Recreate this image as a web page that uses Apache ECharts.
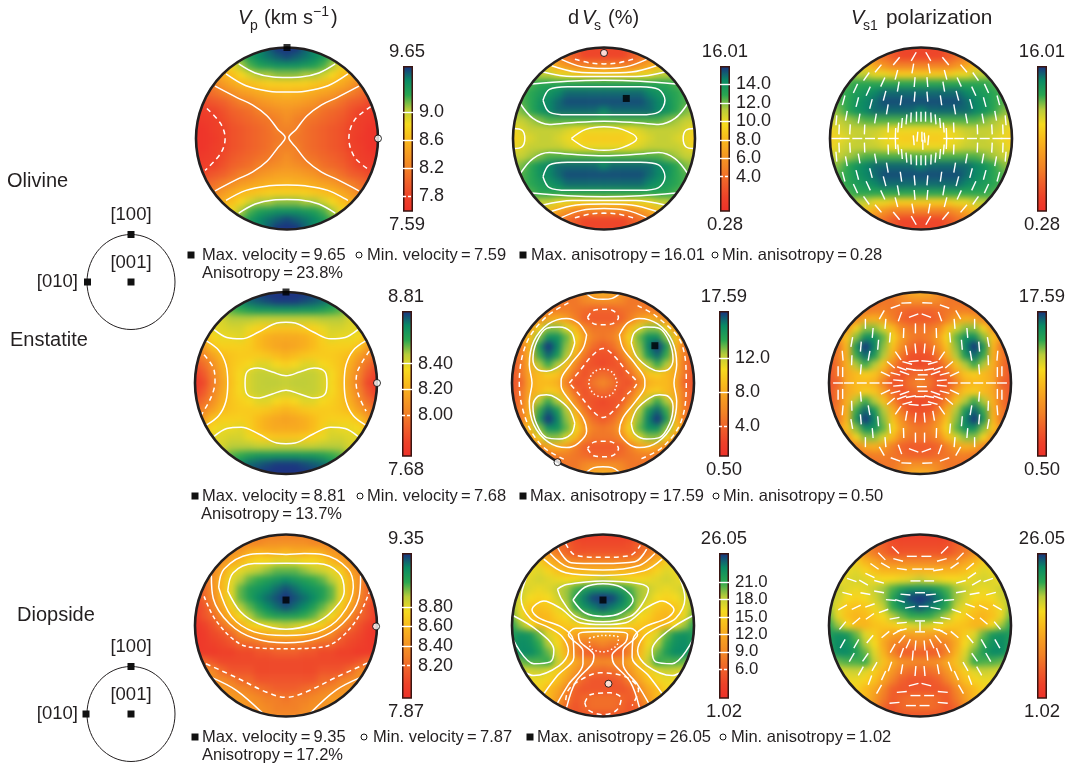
<!DOCTYPE html>
<html><head><meta charset="utf-8">
<script src="https://cdn.jsdelivr.net/npm/echarts@6/dist/echarts.min.js"></script>
<style>html,body{margin:0;background:#fff}#wrap{position:relative;width:1070px;height:765px;overflow:hidden}
#cells,#c{position:absolute;left:0;top:0;width:1070px;height:765px}#cells{filter:blur(3px)}</style></head>
<body><div id="wrap"><div id="cells"></div><div id="c"></div></div>
<script>
const FONT='"Liberation Sans"', INK='#231f20';
const colorRamp=['#ee3029','#ee4229','#f0602a','#f28226','#f69c22','#f9ba1c','#f6da1e','#b9cc3a','#2aa650','#0a8a64','#1a2f80'];

// Cell values, rows from top to bottom; each row is centred on the stereonet
const olivineVp=[
[9.3,9.4,9.55,9.65,9.65,9.65,9.55,9.4,9.3],
[8.9,9.2,9.35,9.45,9.5,9.55,9.6,9.55,9.5,9.45,9.35,9.2,8.9],
[8.7,8.85,9.05,9.2,9.3,9.35,9.4,9.4,9.4,9.35,9.3,9.2,9.05,8.85,8.7],
[8.4,8.55,8.65,8.8,8.95,9.05,9.05,9.1,9.1,9.1,9.05,9.05,8.95,8.8,8.65,8.55,8.4],
[8.1,8.25,8.4,8.5,8.6,8.65,8.7,8.75,8.75,8.75,8.75,8.75,8.7,8.65,8.6,8.5,8.4,8.25,8.1],
[8,8.1,8.2,8.3,8.4,8.45,8.5,8.55,8.55,8.6,8.55,8.55,8.5,8.45,8.4,8.3,8.2,8.1,8],
[7.8,7.85,7.95,8,8.1,8.2,8.25,8.35,8.4,8.45,8.45,8.45,8.4,8.35,8.25,8.2,8.1,8,7.95,7.85,7.8],
[7.7,7.75,7.8,7.9,8,8.05,8.1,8.2,8.25,8.3,8.35,8.3,8.25,8.2,8.1,8.05,8,7.9,7.8,7.75,7.7],
[7.65,7.7,7.75,7.85,7.95,8,8.05,8.1,8.15,8.2,8.3,8.2,8.15,8.1,8.05,8,7.95,7.85,7.75,7.7,7.65],
[7.6,7.65,7.75,7.8,7.9,7.95,8,8.05,8.1,8.2,8.2,8.2,8.1,8.05,8,7.95,7.9,7.8,7.75,7.65,7.6],
[7.6,7.65,7.7,7.8,7.9,7.95,8,8.05,8.1,8.15,8.2,8.15,8.1,8.05,8,7.95,7.9,7.8,7.7,7.65,7.6],
[7.6,7.65,7.75,7.8,7.9,7.95,8,8.05,8.1,8.2,8.2,8.2,8.1,8.05,8,7.95,7.9,7.8,7.75,7.65,7.6],
[7.65,7.7,7.75,7.85,7.95,8,8.05,8.1,8.15,8.2,8.3,8.2,8.15,8.1,8.05,8,7.95,7.85,7.75,7.7,7.65],
[7.7,7.75,7.8,7.9,8,8.05,8.1,8.2,8.25,8.3,8.35,8.3,8.25,8.2,8.1,8.05,8,7.9,7.8,7.75,7.7],
[7.8,7.85,7.95,8,8.1,8.2,8.25,8.35,8.4,8.45,8.45,8.45,8.4,8.35,8.25,8.2,8.1,8,7.95,7.85,7.8],
[8,8.1,8.2,8.3,8.4,8.45,8.5,8.55,8.55,8.6,8.55,8.55,8.5,8.45,8.4,8.3,8.2,8.1,8],
[8.1,8.25,8.4,8.5,8.6,8.65,8.7,8.75,8.75,8.75,8.75,8.75,8.7,8.65,8.6,8.5,8.4,8.25,8.1],
[8.4,8.55,8.65,8.8,8.95,9.05,9.05,9.1,9.1,9.1,9.05,9.05,8.95,8.8,8.65,8.55,8.4],
[8.7,8.85,9.05,9.2,9.3,9.35,9.4,9.4,9.4,9.35,9.3,9.2,9.05,8.85,8.7],
[8.9,9.2,9.35,9.45,9.5,9.55,9.6,9.55,9.5,9.45,9.35,9.2,8.9],
[9.3,9.4,9.55,9.65,9.65,9.65,9.55,9.4,9.3]];
const olivineDvs=[
[4,3,2,2,2,2,2,3,4],
[7,5,4,3,2,2,2,2,2,3,4,5,7],
[10,8.5,7,6,5,5,5,5,5,5,5,6,7,8.5,10],
[12,11,11,10,10,9,9,9,9,9,9,9,10,10,11,11,12],
[12,12.5,13,13,13,13,13,13,13,13,13,13,13,13,13,13,13,12.5,12],
[12.5,13,13.5,14,14.5,15,15,15,15,15,15,15,15,15,14.5,14,13.5,13,12.5],
[12,12.5,13,14,14.5,15,15.5,15.5,15.5,15.5,15.5,15.5,15.5,15.5,15.5,15,14.5,14,13,12.5,12],
[11.5,12,13,14,14.5,15,15,15,15,15,14.5,15,15,15,15,15,14.5,14,13,12,11.5],
[11,11,11.5,12,12.5,12.5,12.5,12.5,12.5,12.5,12.5,12.5,12.5,12.5,12.5,12.5,12.5,12,11.5,11,11],
[9.5,10.5,11,11,11,11,10.5,10,10,10,10,10,10,10,10.5,11,11,11,11,10.5,9.5],
[9,10,10.5,11,11,10.5,10,9.5,9,9,9,9,9,9.5,10,10.5,11,11,10.5,10,9],
[9.5,10.5,11,11,11,11,10.5,10,10,10,10,10,10,10,10.5,11,11,11,11,10.5,9.5],
[11,11,11.5,12,12.5,12.5,12.5,12.5,12.5,12.5,12.5,12.5,12.5,12.5,12.5,12.5,12.5,12,11.5,11,11],
[11.5,12,13,14,14.5,15,15,15,15,15,14.5,15,15,15,15,15,14.5,14,13,12,11.5],
[12,12.5,13,14,14.5,15,15.5,15.5,15.5,15.5,15.5,15.5,15.5,15.5,15.5,15,14.5,14,13,12.5,12],
[12.5,13,13.5,14,14.5,15,15,15,15,15,15,15,15,15,14.5,14,13.5,13,12.5],
[12,12.5,13,13,13,13,13,13,13,13,13,13,13,13,13,13,13,12.5,12],
[12,11,11,10,10,9,9,9,9,9,9,9,10,10,11,11,12],
[10,8.5,7,6,5,5,5,5,5,5,5,6,7,8.5,10],
[7,5,4,3,2,2,2,2,2,3,4,5,7],
[4,3,2,2,2,2,2,3,4]];
const enstatiteVp=[
[8.78,8.8,8.81,8.81,8.81,8.81,8.81,8.8,8.78],
[8.66,8.7,8.74,8.76,8.78,8.8,8.8,8.8,8.78,8.76,8.74,8.7,8.66],
[8.45,8.55,8.58,8.62,8.65,8.65,8.66,8.66,8.66,8.65,8.65,8.62,8.58,8.55,8.45],
[8.38,8.42,8.47,8.47,8.47,8.45,8.45,8.45,8.45,8.45,8.45,8.45,8.47,8.47,8.47,8.42,8.38],
[8.3,8.4,8.4,8.42,8.42,8.38,8.33,8.3,8.28,8.28,8.28,8.3,8.33,8.38,8.42,8.42,8.4,8.4,8.3],
[8.25,8.35,8.38,8.38,8.4,8.32,8.25,8.2,8.18,8.18,8.18,8.2,8.25,8.32,8.4,8.38,8.38,8.35,8.25],
[8,8.15,8.28,8.32,8.32,8.32,8.3,8.25,8.2,8.17,8.15,8.17,8.2,8.25,8.3,8.32,8.32,8.32,8.28,8.15,8],
[7.95,8.05,8.15,8.25,8.28,8.3,8.3,8.3,8.28,8.25,8.22,8.25,8.28,8.3,8.3,8.3,8.28,8.25,8.15,8.05,7.95],
[7.85,7.95,8.08,8.2,8.28,8.32,8.35,8.4,8.4,8.35,8.32,8.35,8.4,8.4,8.35,8.32,8.28,8.2,8.08,7.95,7.85],
[7.75,7.88,8.03,8.17,8.28,8.35,8.42,8.45,8.45,8.44,8.42,8.44,8.45,8.45,8.42,8.35,8.28,8.17,8.03,7.88,7.75],
[7.7,7.82,8,8.15,8.27,8.35,8.42,8.45,8.46,8.46,8.45,8.46,8.46,8.45,8.42,8.35,8.27,8.15,8,7.82,7.7],
[7.75,7.88,8.03,8.17,8.28,8.35,8.42,8.45,8.45,8.44,8.42,8.44,8.45,8.45,8.42,8.35,8.28,8.17,8.03,7.88,7.75],
[7.85,7.95,8.08,8.2,8.28,8.32,8.35,8.4,8.4,8.35,8.32,8.35,8.4,8.4,8.35,8.32,8.28,8.2,8.08,7.95,7.85],
[7.95,8.05,8.15,8.25,8.28,8.3,8.3,8.3,8.28,8.25,8.22,8.25,8.28,8.3,8.3,8.3,8.28,8.25,8.15,8.05,7.95],
[8,8.15,8.28,8.32,8.32,8.32,8.3,8.25,8.2,8.17,8.15,8.17,8.2,8.25,8.3,8.32,8.32,8.32,8.28,8.15,8],
[8.25,8.35,8.38,8.38,8.4,8.32,8.25,8.2,8.18,8.18,8.18,8.2,8.25,8.32,8.4,8.38,8.38,8.35,8.25],
[8.3,8.4,8.4,8.42,8.42,8.38,8.33,8.3,8.28,8.28,8.28,8.3,8.33,8.38,8.42,8.42,8.4,8.4,8.3],
[8.38,8.42,8.47,8.47,8.47,8.45,8.45,8.45,8.45,8.45,8.45,8.45,8.47,8.47,8.47,8.42,8.38],
[8.45,8.55,8.58,8.62,8.65,8.65,8.66,8.66,8.66,8.65,8.65,8.62,8.58,8.55,8.45],
[8.66,8.7,8.74,8.76,8.78,8.8,8.8,8.8,8.78,8.76,8.74,8.7,8.66],
[8.78,8.8,8.81,8.81,8.81,8.81,8.81,8.8,8.78]];
const enstatiteDvs=[
[4,5.5,6.5,8,8.5,8,6.5,5.5,4],
[4,4.5,5,5,6,6.5,6.5,6.5,6,5,5,4.5,4],
[4,5,5.5,5.5,5,4.5,4,4,4,4.5,5,5.5,5.5,5,4],
[4.5,6,8,8.5,7.5,5.5,4,3.5,3.5,3.5,4,5.5,7.5,8.5,8,6,4.5],
[5,7,10.5,13,13,11.5,9,6,5,5,5,6,9,11.5,13,13,10.5,7,5],
[7,9.5,13,15.5,15.5,13.5,10.5,7.5,5.5,5,5.5,7.5,10.5,13.5,15.5,15.5,13,9.5,7],
[3,5,9,15,17.5,16,13,9.5,6.5,4.5,3.5,4.5,6.5,9.5,13,16,17.5,15,9,5,3],
[3.5,5.5,8.5,14,16.5,15,12.5,8.5,5,3,3,3,5,8.5,12.5,15,16.5,14,8.5,5.5,3.5],
[3,5,8.5,12.5,14,12.5,9.5,6,3.5,3,2.5,3,3.5,6,9.5,12.5,14,12.5,8.5,5,3],
[3,5,8,9,10,9.5,7.5,4.5,3,4,4.5,4,3,4.5,7.5,9.5,10,9,8,5,3],
[3,4,8,9,9,8.5,5.5,3,3.5,5,6,5,3.5,3,5.5,8.5,9,9,8,4,3],
[3,5,8,9,10,9.5,7.5,4.5,3,4,4.5,4,3,4.5,7.5,9.5,10,9,8,5,3],
[3,5,8.5,12.5,14,12.5,9.5,6,3.5,3,2.5,3,3.5,6,9.5,12.5,14,12.5,8.5,5,3],
[3.5,5.5,8.5,14,16.5,15,12.5,8.5,5,3,3,3,5,8.5,12.5,15,16.5,14,8.5,5.5,3.5],
[3,5,9,15,17.5,16,13,9.5,6.5,4.5,3.5,4.5,6.5,9.5,13,16,17.5,15,9,5,3],
[7,9.5,13,15.5,15.5,13.5,10.5,7.5,5.5,5,5.5,7.5,10.5,13.5,15.5,15.5,13,9.5,7],
[5,7,10.5,13,13,11.5,9,6,5,5,5,6,9,11.5,13,13,10.5,7,5],
[4.5,6,8,8.5,7.5,5.5,4,3.5,3.5,3.5,4,5.5,7.5,8.5,8,6,4.5],
[4,5,5.5,5.5,5,4.5,4,4,4,4.5,5,5.5,5.5,5,4],
[4,4.5,5,5,6,6.5,6.5,6.5,6,5,5,4.5,4],
[4,5.5,6.5,8,8.5,8,6.5,5.5,4]];
const diopsideVp=[
[8.3,8.3,8.3,8.3,8.3,8.3,8.3,8.3,8.3],
[8.3,8.3,8.35,8.35,8.4,8.4,8.4,8.4,8.4,8.35,8.35,8.3,8.3],
[8.3,8.4,8.45,8.55,8.6,8.55,8.55,8.6,8.55,8.55,8.6,8.55,8.45,8.4,8.3],
[8.3,8.4,8.5,8.6,8.7,8.75,8.75,8.8,8.8,8.8,8.75,8.75,8.7,8.6,8.5,8.4,8.3],
[8.2,8.35,8.5,8.7,8.8,8.85,8.9,8.95,9,9,9,8.95,8.9,8.85,8.8,8.7,8.5,8.35,8.2],
[8.2,8.4,8.6,8.8,8.9,9,9.05,9.1,9.15,9.2,9.15,9.1,9.05,9,8.9,8.8,8.6,8.4,8.2],
[8.05,8.2,8.4,8.6,8.8,9,9.1,9.15,9.2,9.25,9.3,9.25,9.2,9.15,9.1,9,8.8,8.6,8.4,8.2,8.05],
[8,8.2,8.35,8.6,8.8,9,9.1,9.2,9.25,9.3,9.35,9.3,9.25,9.2,9.1,9,8.8,8.6,8.35,8.2,8],
[8,8.1,8.3,8.5,8.7,8.9,9,9.1,9.2,9.25,9.3,9.25,9.2,9.1,9,8.9,8.7,8.5,8.3,8.1,8],
[7.95,8.1,8.2,8.4,8.6,8.75,8.9,9,9.05,9.1,9.1,9.1,9.05,9,8.9,8.75,8.6,8.4,8.2,8.1,7.95],
[7.9,8,8.1,8.25,8.4,8.55,8.7,8.75,8.8,8.85,8.9,8.85,8.8,8.75,8.7,8.55,8.4,8.25,8.1,8,7.9],
[7.9,7.95,8.05,8.1,8.2,8.35,8.45,8.5,8.55,8.6,8.6,8.6,8.55,8.5,8.45,8.35,8.2,8.1,8.05,7.95,7.9],
[7.9,7.95,8,8.05,8.1,8.2,8.2,8.25,8.3,8.3,8.3,8.3,8.3,8.25,8.2,8.2,8.1,8.05,8,7.95,7.9],
[7.95,7.95,7.95,8,8,8.05,8.05,8.1,8.1,8.15,8.15,8.15,8.1,8.1,8.05,8.05,8,8,7.95,7.95,7.95],
[8.25,8.2,8.1,8.05,8.05,8.05,8.05,8.05,8.05,8.05,8.05,8.05,8.05,8.05,8.05,8.05,8.05,8.05,8.1,8.2,8.25],
[8.4,8.35,8.2,8.1,8.1,8.1,8.05,8.05,8.05,8.05,8.05,8.05,8.05,8.1,8.1,8.1,8.2,8.35,8.4],
[8.45,8.4,8.35,8.3,8.2,8.2,8.1,8.1,8.1,8.1,8.1,8.1,8.1,8.2,8.2,8.3,8.35,8.4,8.45],
[8.45,8.45,8.4,8.35,8.3,8.25,8.2,8.15,8.15,8.15,8.2,8.25,8.3,8.35,8.4,8.45,8.45],
[8.45,8.45,8.45,8.4,8.35,8.3,8.3,8.25,8.3,8.3,8.35,8.4,8.45,8.45,8.45],
[8.45,8.45,8.4,8.4,8.35,8.3,8.3,8.3,8.35,8.4,8.4,8.45,8.45],
[8.4,8.4,8.4,8.35,8.35,8.35,8.4,8.4,8.4]];
const diopsideDvs=[
[3.5,3,3,3,3,3,3,3,3.5],
[8.5,7,6,4.5,4,4,4,4,4,4.5,6,7,8.5],
[12,10,8,6.5,5,5,5,5,5,5,5,6.5,8,10,12],
[16.5,15,13,11.5,10,9,9,9,9,9,9,9,10,11.5,13,15,16.5],
[15,16.5,17,15.5,14,13,13,13,13,13,13,13,13,13,14,15.5,17,16.5,15],
[16,17,17.5,17,16.5,16,16,16.5,17,18,17,16.5,16,16,16.5,17,17.5,17,16],
[17,18,17,16.5,17,18,19,20.5,22,23,23,23,22,20.5,19,18,17,16.5,17,18,17],
[18,17.5,16,15.5,16,17.5,19,21.5,24,25.5,26,25.5,24,21.5,19,17.5,16,15.5,16,17.5,18],
[19,16.5,14.5,14,14.5,16.5,18,21,23,24,25,24,23,21,18,16.5,14.5,14,14.5,16.5,19],
[20,16.5,14,13,13.5,15,16,18.5,20,21,21,21,20,18.5,16,15,13.5,13,14,16.5,20],
[21.5,19,16,13.5,13,14,14.5,15,16,17,17.5,17,16,15,14.5,14,13,13.5,16,19,21.5],
[22,23,22.5,20,17,15,13,11.5,11,11.5,11.5,11.5,11,11.5,13,15,17,20,22.5,23,22],
[22,23.5,23,21,18.5,16,12,9,8,8,9,8,8,9,12,16,18.5,21,23,23.5,22],
[21,23.5,23.5,22,20,17,13,8.5,6,5.5,6,5.5,6,8.5,13,17,20,22,23.5,23.5,21],
[18,20,20.5,20.5,21,18,14,12,10,9.5,9,9.5,10,12,14,18,21,20.5,20.5,20,18],
[17,17.5,18,17,15,13,10.5,8,7,6.5,7,8,10.5,13,15,17,18,17.5,17],
[16,16.5,16.5,15.5,14,11.5,8.5,6,5,5,5,6,8.5,11.5,14,15.5,16.5,16.5,16],
[16,15.5,13.5,12,9,6,5,5,5,5,5,6,9,12,13.5,15.5,16],
[15,13.5,11,8,5.5,6.5,7,7,7,6.5,5.5,8,11,13.5,15],
[13,10,6.5,5,6.5,7,7,7,6.5,5,6.5,10,13],
[6,5,5,5,5,5,5,5,6]];

// Contours: [line style, [[x, y], ...]] in stereonet units
const olivineVpContours=[
['solid',[[-.53,.82],[-.35,.72],[-.15,.675],[0,.67],[.15,.675],[.35,.72],[.53,.82]]],
['solid',[[-.67,.71],[-.45,.58],[-.2,.52],[0,.51],[.2,.52],[.45,.58],[.67,.71]]],
['solid',[[-.53,-.82],[-.35,-.72],[-.15,-.675],[0,-.67],[.15,-.675],[.35,-.72],[.53,-.82]]],
['solid',[[-.67,-.68],[-.45,-.57],[-.2,-.52],[0,-.51],[.2,-.52],[.45,-.57],[.67,-.68]]],
['solid',[[-.79,.575],[-.55,.45],[-.38,.37],[-.22,.25],[-.1,.1],[-.02,.01],[-.1,-.1],[-.22,-.25],[-.38,-.37],[-.55,-.45],[-.79,-.575]]],
['solid',[[.79,.575],[.55,.45],[.38,.37],[.22,.25],[.1,.1],[.02,.01],[.1,-.1],[.22,-.25],[.38,-.37],[.55,-.45],[.79,-.575]]],
['dashed',[[-.88,.33],[-.73,.165],[-.68,0],[-.73,-.165],[-.9,-.35]]],
['dashed',[[.92,.35],[.74,.2],[.68,0],[.74,-.2],[.88,-.33]]]];
const olivineDvsContours=[
['dashed',[[-.32,.87],[-.15,.83],[0,.82],[.15,.83],[.32,.87]]],
['solid',[[-.47,.87],[-.25,.79],[0,.77],[.25,.79],[.47,.87]]],
['solid',[[-.575,.8],[-.3,.73],[0,.72],[.3,.73],[.575,.8]]],
['solid',[[-.67,.73],[-.35,.68],[0,.68],[.35,.68],[.67,.73]]],
['solid',[[-.79,.6],[-.4,.63],[0,.64],[.4,.63],[.79,.6]]],
['solid',[[-.67,.42],[-.6,.54],[-.4,.57],[0,.57],[.4,.57],[.6,.54],[.67,.42],[.6,.29],[.4,.26],[0,.26],[-.4,.26],[-.6,.29],[-.67,.42]]],
['solid',[[-.92,.385],[-.78,.22],[-.6,.155],[-.4,.17],[0,.19],[.4,.17],[.6,.155],[.78,.22],[.92,.385]]],
['solid',[[-.36,0],[-.2,.1],[0,.13],[.2,.1],[.36,0],[.2,-.1],[0,-.13],[-.2,-.1],[-.36,0]]],
['solid',[[-.99,.11],[-.9,.09],[-.87,0],[-.9,-.09],[-.99,-.11]]],
['solid',[[.99,.11],[.9,.09],[.87,0],[.9,-.09],[.99,-.11]]],
['solid',[[-.92,-.385],[-.78,-.22],[-.6,-.155],[-.4,-.17],[0,-.19],[.4,-.17],[.6,-.155],[.78,-.22],[.92,-.385]]],
['solid',[[-.67,-.42],[-.6,-.54],[-.4,-.57],[0,-.57],[.4,-.57],[.6,-.54],[.67,-.42],[.6,-.29],[.4,-.26],[0,-.26],[-.4,-.26],[-.6,-.29],[-.67,-.42]]],
['solid',[[-.79,-.6],[-.4,-.63],[0,-.64],[.4,-.63],[.79,-.6]]],
['solid',[[-.67,-.73],[-.35,-.68],[0,-.68],[.35,-.68],[.67,-.73]]],
['solid',[[-.575,-.8],[-.3,-.73],[0,-.72],[.3,-.73],[.575,-.8]]],
['solid',[[-.47,-.87],[-.25,-.79],[0,-.77],[.25,-.79],[.47,-.87]]],
['dashed',[[-.32,-.87],[-.15,-.83],[0,-.82],[.15,-.83],[.32,-.87]]]];
const enstatiteVpContours=[
['solid',[[-.79,.586],[-.65,.5],[-.49,.485],[-.3,.56],[-.1,.66],[0,.667],[.1,.66],[.3,.56],[.49,.485],[.65,.5],[.79,.586]]],
['solid',[[-.79,-.586],[-.65,-.5],[-.49,-.485],[-.3,-.56],[-.1,-.66],[0,-.667],[.1,-.66],[.3,-.56],[.49,-.485],[.65,-.5],[.79,-.586]]],
['solid',[[-.45,0],[-.43,.12],[-.31,.165],[-.15,.12],[0,.08],[.15,.12],[.31,.165],[.43,.12],[.45,0],[.43,-.12],[.31,-.165],[.15,-.12],[0,-.08],[-.15,-.12],[-.31,-.165],[-.43,-.12],[-.45,0]]],
['solid',[[-.88,.465],[-.74,.36],[-.66,.2],[-.64,0],[-.66,-.2],[-.74,-.36],[-.88,-.465]]],
['solid',[[.88,.465],[.74,.36],[.66,.2],[.64,0],[.66,-.2],[.74,-.36],[.88,-.465]]],
['dashed',[[-.9,.31],[-.8,.17],[-.78,.02],[-.82,-.15],[-.93,-.35]]],
['dashed',[[.915,.35],[.79,.14],[.77,0],[.8,-.14],[.88,-.31]]]];
const enstatiteDvsContours=[
['solid',[[.31,.44],[.37,.29],[.51,.165],[.62,.13],[.72,.15],[.77,.26],[.73,.45],[.62,.6],[.48,.615],[.35,.56],[.31,.44]]],
['solid',[[-.31,.44],[-.37,.29],[-.51,.165],[-.62,.13],[-.72,.15],[-.77,.26],[-.73,.45],[-.62,.6],[-.48,.615],[-.35,.56],[-.31,.44]]],
['solid',[[.31,-.44],[.37,-.29],[.51,-.165],[.62,-.13],[.72,-.15],[.77,-.26],[.73,-.45],[.62,-.6],[.48,-.615],[.35,-.56],[.31,-.44]]],
['solid',[[-.31,-.44],[-.37,-.29],[-.51,-.165],[-.62,-.13],[-.72,-.15],[-.77,-.26],[-.73,-.45],[-.62,-.6],[-.48,-.615],[-.35,-.56],[-.31,-.44]]],
['solid',[[.18,.53],[.27,.66],[.4,.71],[.6,.65],[.76,.46],[.81,.2],[.78,0],[.81,-.2],[.76,-.46],[.6,-.65],[.4,-.71],[.27,-.66],[.18,-.53],[.22,-.38],[.36,-.2],[.46,-.03],[.46,.03],[.36,.2],[.22,.38],[.18,.53]]],
['solid',[[-.18,.53],[-.27,.66],[-.4,.71],[-.6,.65],[-.76,.46],[-.81,.2],[-.78,0],[-.81,-.2],[-.76,-.46],[-.6,-.65],[-.4,-.71],[-.27,-.66],[-.18,-.53],[-.22,-.38],[-.36,-.2],[-.46,-.03],[-.46,.03],[-.36,.2],[-.22,.38],[-.18,.53]]],
['dashed',[[-.37,0],[-.25,.14],[-.12,.3],[0,.38],[.12,.3],[.25,.14],[.37,0],[.25,-.14],[.12,-.3],[0,-.38],[-.12,-.3],[-.25,-.14],[-.37,0]]],
['dotted',[[.155,0],[.11,.11],[0,.155],[-.11,.11],[-.155,0],[-.11,-.11],[0,-.155],[.11,-.11],[.155,0]]],
['dashed',[[-.17,.72],[-.1,.8],[0,.81],[.1,.8],[.17,.72],[.1,.65],[0,.64],[-.1,.65],[-.17,.72]]],
['dashed',[[-.17,-.72],[-.1,-.8],[0,-.81],[.1,-.8],[.17,-.72],[.1,-.65],[0,-.64],[-.1,-.65],[-.17,-.72]]],
['solid',[[-.18,.98],[-.1,.93],[0,.92],[.1,.93],[.18,.98]]],
['solid',[[-.18,-.98],[-.1,-.93],[0,-.92],[.1,-.93],[.18,-.98]]],
['dashed',[[.38,.85],[.59,.73],[.86,.44],[.915,0],[.86,-.42],[.66,-.7],[.4,-.84]]],
['dashed',[[-.38,.88],[-.62,.73],[-.84,.44],[-.92,0],[-.84,-.42],[-.66,-.7],[-.4,-.85]]]];
const diopsideVpContours=[
['solid',[[-.64,.38],[-.58,.58],[-.35,.68],[0,.685],[.35,.68],[.58,.58],[.64,.38],[.5,.15],[.3,.02],[0,-.04],[-.3,.02],[-.5,.15],[-.64,.38]]],
['solid',[[-.74,.42],[-.68,.62],[-.4,.78],[-.2,.79],[0,.78],[.2,.79],[.4,.78],[.68,.62],[.74,.42],[.6,.1],[.35,-.07],[0,-.11],[-.35,-.07],[-.6,.1],[-.74,.42]]],
['solid',[[-.82,.55],[-.8,.3],[-.62,.02],[-.35,-.14],[0,-.19],[.35,-.14],[.62,.02],[.8,.3],[.82,.55]]],
['shortDash',[[-.9,.32],[-.77,.055],[-.51,-.2],[-.25,-.25],[0,-.256],[.25,-.25],[.51,-.2],[.77,.055],[.92,.38]]],
['dashed',[[-.88,-.42],[-.55,-.57],[-.22,-.73],[0,-.79],[.22,-.73],[.55,-.57],[.9,-.41]]],
['solid',[[-.82,-.57],[-.55,-.71],[-.26,-.96]]],
['solid',[[.82,-.57],[.55,-.71],[.27,-.96]]]];
const diopsideDvsContours=[
['solid',[[-.33,.28],[-.2,.42],[0,.46],[.2,.42],[.33,.28],[.2,.14],[0,.1],[-.2,.14],[-.33,.28]]],
['solid',[[-.5,.4],[-.4,.45],[0,.49],[.4,.46],[.5,.4],[.42,.22],[.3,.1],[0,.04],[-.3,.1],[-.45,.28],[-.5,.4]]],
['solid',[[-.65,-.75],[-.5,-.55],[-.32,-.35],[-.33,-.15],[-.45,-.02],[-.7,.08],[-.78,.17],[-.65,.27],[-.47,.19],[-.25,.03],[0,.01],[.25,.03],[.47,.19],[.65,.27],[.78,.17],[.7,.08],[.45,-.02],[.33,-.15],[.32,-.35],[.5,-.55],[.65,-.75]]],
['solid',[[-.5,-.85],[-.38,-.65],[-.22,-.42],[-.22,-.28],[-.38,-.1],[-.3,-.03],[0,-.03],[.3,-.03],[.38,-.1],[.22,-.28],[.22,-.42],[.38,-.65],[.5,-.85]]],
['solid',[[-.4,-.9],[-.3,-.62],[-.12,-.42],[-.1,-.33],[-.25,-.18],[-.27,-.1],[-.1,-.07],[.1,-.07],[.27,-.1],[.25,-.18],[.1,-.33],[.12,-.42],[.3,-.62],[.4,-.9]]],
['dotted',[[-.15,-.14],[0,-.11],[.17,-.13],[.15,-.22],[0,-.29],[-.14,-.24],[-.15,-.14]]],
['dashed',[[-.41,-.82],[-.38,-.71],[-.25,-.6],[-.03,-.52],[.26,-.57],[.39,-.71],[.32,-.88]]],
['dashed',[[-.2,-.85],[-.14,-.76],[.08,-.74],[.2,-.8],[.15,-.93],[0,-.98],[-.16,-.93],[-.2,-.85]]],
['dashed',[[-.41,.9],[-.3,.77],[0,.75],[.3,.77],[.41,.88]]],
['solid',[[-.5,.86],[-.35,.69],[0,.68],[.35,.7],[.48,.84]]],
['solid',[[-.58,.79],[-.38,.64],[0,.61],[.4,.66],[.57,.79]]],
['solid',[[-.65,.73],[-.41,.58],[0,.55],[.45,.6],[.65,.73]]],
['solid',[[-.84,.53],[-.9,.3],[-.8,.08],[-.6,-.02],[-.45,-.12],[-.38,-.28],[-.48,-.44],[-.76,-.55],[-.88,-.5]]],
['solid',[[.84,.53],[.9,.3],[.8,.08],[.6,-.02],[.45,-.12],[.38,-.28],[.48,-.44],[.76,-.55],[.88,-.5]]],
['solid',[[-.99,.11],[-.72,-.055],[-.54,-.27],[-.58,-.4],[-.76,-.42],[-.99,-.15]]],
['solid',[[.99,.11],[.72,-.055],[.54,-.27],[.58,-.4],[.76,-.42],[.99,-.15]]]];

// Polarization ticks: [x, y, direction in degrees]
const olivineTicks=[
[.08,.9,120],[.27,.85,130],[.47,.77,130],[.6,.68,125],[.72,.55,115],[.85,.42,105],[.93,.2,95],
[.09,.77,100],[.27,.7,105],[.42,.62,115],[.58,.52,115],[.7,.4,105],[.82,.25,100],[.9,.1,92],
[.07,.62,95],[.25,.57,100],[.4,.47,105],[.55,.38,105],[.68,.22,100],[.78,.1,93],
[.07,.46,95],[.22,.42,98],[.37,.32,100],[.5,.22,100],[.62,.1,92],
[.05,.24,90],[.11,.23,92],[.16,.21,95],[.21,.17,95],[.25,.12,95],[.28,.06,92],[.36,.12,92],
[-.08,.9,60],[-.27,.85,50],[-.47,.77,50],[-.6,.68,55],[-.72,.55,65],[-.85,.42,75],[-.93,.2,85],
[-.09,.77,80],[-.27,.7,75],[-.42,.62,65],[-.58,.52,65],[-.7,.4,75],[-.82,.25,80],[-.9,.1,88],
[-.07,.62,85],[-.25,.57,80],[-.4,.47,75],[-.55,.38,75],[-.68,.22,80],[-.78,.1,87],
[-.07,.46,85],[-.22,.42,82],[-.37,.32,80],[-.5,.22,80],[-.62,.1,88],
[0,.24,90],[-.05,.24,90],[-.11,.23,88],[-.16,.21,85],[-.21,.17,85],[-.25,.12,85],[-.28,.06,88],[-.36,.12,88],
[.08,-.9,60],[.27,-.85,50],[.47,-.77,50],[.6,-.68,55],[.72,-.55,65],[.85,-.42,75],[.93,-.2,85],
[.09,-.77,80],[.27,-.7,75],[.42,-.62,65],[.58,-.52,65],[.7,-.4,75],[.82,-.25,80],[.9,-.1,88],
[.07,-.62,85],[.25,-.57,80],[.4,-.47,75],[.55,-.38,75],[.68,-.22,80],[.78,-.1,87],
[.07,-.46,85],[.22,-.42,82],[.37,-.32,80],[.5,-.22,80],[.62,-.1,88],
[0,-.24,90],[.05,-.24,90],[.11,-.23,88],[.16,-.21,85],[.21,-.17,85],[.25,-.12,85],[.28,-.06,88],[.36,-.12,88],
[-.08,-.9,120],[-.27,-.85,130],[-.47,-.77,130],[-.6,-.68,125],[-.72,-.55,115],[-.85,-.42,105],[-.93,-.2,95],
[-.09,-.77,100],[-.27,-.7,105],[-.42,-.62,115],[-.58,-.52,115],[-.7,-.4,105],[-.82,-.25,100],[-.9,-.1,92],
[-.07,-.62,95],[-.25,-.57,100],[-.4,-.47,105],[-.55,-.38,105],[-.68,-.22,100],[-.78,-.1,93],
[-.07,-.46,95],[-.22,-.42,98],[-.37,-.32,100],[-.5,-.22,100],[-.62,-.1,92],
[-.05,-.24,90],[-.11,-.23,92],[-.16,-.21,95],[-.21,-.17,95],[-.25,-.12,95],[-.28,-.06,92],[-.36,-.12,92],
[.01,.02,90],[.04,.01,95],[-.04,.02,85],[.08,-.02,85],[-.08,-.02,95],[.02,-.07,90],
[.3,0,0],[.42,0,0],[.56,0,0],[.7,0,0],[.84,0,0],[.93,0,0],[-.3,0,0],[-.42,0,0],[-.56,0,0],[-.7,0,0],[-.84,0,0],[-.93,0,0]];
const enstatiteTicks=[
[.08,.88,178],[.27,.84,160],[.42,.75,120],[.6,.65,90],[.75,.45,100],[.85,.3,85],[.9,.13,90],
[.07,.74,160],[.22,.73,110],[.38,.65,95],[.52,.55,95],[.65,.4,95],[.75,.25,92],[.85,.12,90],
[.05,.6,90],[.18,.55,92],[.33,.5,95],[.46,.42,95],[.56,.3,100],[.65,.15,95],
[.05,.38,85],[.15,.36,80],[.24,.3,55],[.32,.2,40],[.38,.1,25],
[.07,.24,175],[.14,.22,15],[.2,.16,20],[.27,.1,15],[.24,.03,5],[.17,.11,20],[.1,.15,10],
[-.15,.88,2],[-.27,.84,20],[-.42,.75,60],[-.6,.65,90],[-.75,.45,80],[-.85,.3,95],[-.9,.13,90],
[-.07,.74,20],[-.22,.73,70],[-.38,.65,85],[-.52,.55,85],[-.65,.4,85],[-.75,.25,88],[-.85,.12,90],
[-.05,.6,90],[-.18,.55,88],[-.33,.5,85],[-.46,.42,85],[-.56,.3,80],[-.65,.15,85],
[-.05,.38,95],[-.15,.36,100],[-.24,.3,125],[-.32,.2,140],[-.38,.1,155],
[-.07,.24,5],[-.14,.22,165],[-.2,.16,160],[-.27,.1,165],[-.24,.03,175],[-.17,.11,160],[-.1,.15,170],
[.08,-.88,2],[.27,-.84,20],[.42,-.75,60],[.6,-.65,90],[.75,-.45,80],[.85,-.3,95],[.9,-.13,90],
[.07,-.74,20],[.22,-.73,70],[.38,-.65,85],[.52,-.55,85],[.65,-.4,85],[.75,-.25,88],[.85,-.12,90],
[.05,-.6,90],[.18,-.55,88],[.33,-.5,85],[.46,-.42,85],[.56,-.3,80],[.65,-.15,85],
[.05,-.38,95],[.15,-.36,100],[.24,-.3,125],[.32,-.2,140],[.38,-.1,155],
[.07,-.24,5],[.14,-.22,165],[.2,-.16,160],[.27,-.1,165],[.24,-.03,175],[.17,-.11,160],[.1,-.15,170],
[-.15,-.88,178],[-.27,-.84,160],[-.42,-.75,120],[-.6,-.65,90],[-.75,-.45,100],[-.85,-.3,85],[-.9,-.13,90],
[-.07,-.74,160],[-.22,-.73,110],[-.38,-.65,95],[-.52,-.55,95],[-.65,-.4,95],[-.75,-.25,92],[-.85,-.12,90],
[-.05,-.6,90],[-.18,-.55,92],[-.33,-.5,95],[-.46,-.42,95],[-.56,-.3,100],[-.65,-.15,95],
[-.05,-.38,85],[-.15,-.36,80],[-.24,-.3,55],[-.32,-.2,40],[-.38,-.1,25],
[-.07,-.24,175],[-.14,-.22,15],[-.2,-.16,20],[-.27,-.1,15],[-.24,-.03,5],[-.17,-.11,20],[-.1,-.15,10],
[0,.04,0],[.02,-.04,0],[.03,.09,0],[.03,-.09,0],[-.02,.14,0],[0,-.15,0],
[.36,0,0],[.5,0,0],[.64,0,0],[.78,0,0],[.9,0,0],[-.36,0,0],[-.5,0,0],[-.64,0,0],[-.78,0,0],[-.9,0,0]];
const diopsideTicks=[
[-.27,.83,135],[.27,.83,45],[-.09,.76,0],[.07,.76,0],[-.24,.72,165],[.24,.72,15],[-.42,.76,135],[.44,.76,45],
[-.2,.62,172],[-.03,.62,0],[.1,.62,0],[.2,.61,8],[-.38,.66,150],[.38,.66,35],[-.5,.65,145],[.55,.65,40],[-.55,.55,155],[.57,.55,35],
[-.75,.5,160],[-.45,.48,165],[-.62,.47,150],[-.05,.49,0],[.1,.49,0],[.45,.48,15],[.62,.47,30],[.75,.5,20],
[-.8,.35,165],[-.6,.35,170],[-.45,.37,170],[-.16,.34,175],[0,.36,0],[.12,.34,5],[.45,.37,10],[.6,.35,10],[.78,.35,15],
[-.22,.27,165],[.2,.27,15],[-.32,.28,175],[.32,.28,5],[-.85,.2,30],[.85,.2,150],
[-.11,.2,10],[.04,.21,0],[.17,.19,170],[-.7,.2,25],[.7,.2,155],[-.55,.22,20],[.55,.22,160],[-.4,.16,20],[.4,.16,160],
[-.85,0,50],[-.7,.05,40],[-.55,.1,35],[-.28,.08,10],[.28,.08,170],[.55,.1,145],[.7,.05,140],[.85,0,130],
[0,.05,0],[0,-.01,90],[0,-.07,0],[-.2,.03,5],[.2,.03,175],[-.2,-.05,15],[.2,-.05,165],
[-.05,-.22,85],[-.13,-.2,65],[-.2,-.15,50],[-.25,-.07,30],[.05,-.22,95],[.13,-.2,115],[.2,-.15,130],[.25,-.07,150],
[-.08,-.33,85],[-.2,-.3,70],[-.3,-.25,60],[-.38,-.1,40],[.08,-.33,95],[.2,-.3,110],[.3,-.25,120],[.38,-.1,140],
[-.05,-.5,85],[.05,-.5,95],[-.2,-.48,80],[.2,-.48,100],[-.33,-.45,70],[.33,-.45,110],
[-.07,-.65,15],[.07,-.65,165],[-.2,-.73,5],[-.05,-.77,0],[.1,-.77,0],[.25,-.73,175],[-.28,-.85,5],[-.1,-.88,0],[.05,-.88,0],[.25,-.85,175],
[-.45,-.7,60],[.45,-.7,120],[-.4,-.55,65],[.4,-.55,115],
[-.85,-.2,60],[-.7,-.2,60],[-.55,-.15,50],[-.75,-.35,60],[-.6,-.35,55],[-.65,-.5,60],[-.5,-.45,60],[-.55,-.6,70],
[.85,-.2,120],[.7,-.2,120],[.55,-.15,130],[.75,-.35,120],[.6,-.35,125],[.65,-.5,120],[.5,-.45,120],[.55,-.6,110]];

// Colour-bar tick values
const olivineVpBar=[9,8.6,8.2,7.8], olivineDvsBar=[14,12,10,8,6,4];
const enstatiteVpBar=[8.4,8.2,8], enstatiteDvsBar=[12,8,4];
const diopsideVpBar=[8.8,8.6,8.4,8.2], diopsideDvsBar=[21,18,15,12,9,6];

// Extreme marks [x, y]
const markers={
 olivineVp:{max:[0,1],min:[1,0]}, olivineDvs:{max:[.245,.44],min:[0,.94]},
 enstatiteVp:{max:[0,1],min:[1,0]}, enstatiteDvs:{max:[.57,.41],min:[-.5,-.87]},
 diopsideVp:{max:[0,.28],min:[.99,-.01]}, diopsideDvs:{max:[0,.28],min:[.06,-.64]}};

// Panels
const rowsLayout=[{cy:138.5,barTop:66,xs:[287,604,921]},{cy:383,barTop:311,xs:[286,603,920]},{cy:625.5,barTop:553,xs:[286,603,920]}];
const barLefts=[[403,720,1037],[402,719,1037],[402,719,1037]];
const panels=[
 {r:0,c:0,cells:olivineVp,min:7.59,max:9.65,ticks:olivineVpBar,dec:1,cont:olivineVpContours,mk:markers.olivineVp},
 {r:0,c:1,cells:olivineDvs,min:.28,max:16.01,ticks:olivineDvsBar,dec:1,cont:olivineDvsContours,mk:markers.olivineDvs},
 {r:0,c:2,cells:olivineDvs,min:.28,max:16.01,ticks:[],dec:1,pol:olivineTicks},
 {r:1,c:0,cells:enstatiteVp,min:7.68,max:8.81,ticks:enstatiteVpBar,dec:2,cont:enstatiteVpContours,mk:markers.enstatiteVp},
 {r:1,c:1,cells:enstatiteDvs,min:.5,max:17.59,ticks:enstatiteDvsBar,dec:1,cont:enstatiteDvsContours,mk:markers.enstatiteDvs},
 {r:1,c:2,cells:enstatiteDvs,min:.5,max:17.59,ticks:[],dec:1,pol:enstatiteTicks},
 {r:2,c:0,cells:diopsideVp,min:7.87,max:9.35,ticks:diopsideVpBar,dec:2,cont:diopsideVpContours,mk:markers.diopsideVp},
 {r:2,c:1,cells:diopsideDvs,min:1.02,max:26.05,ticks:diopsideDvsBar,dec:1,labelSize:16.8,cont:diopsideDvsContours,mk:markers.diopsideDvs},
 {r:2,c:2,cells:diopsideDvs,min:1.02,max:26.05,ticks:[],dec:1,pol:diopsideTicks}];

const R=91,N=21,BAR_W=10,BAR_H=145;
const cats=Array.from({length:N},(_,i)=>String(i));
// Lower chart: the softened heat maps. Upper chart: everything else.
const hGrid=[],hX=[],hY=[],hSeries=[],visualMap=[];
const grid=[],xAxis=[],yAxis=[],series=[],graphic=[];
const dash={solid:'solid',dashed:[5,4],shortDash:[4,3],dotted:[1.5,2.5]};
const gradient={type:'linear',x:0,y:1,x2:0,y2:0,colorStops:colorRamp.map((c,i)=>({offset:i/(colorRamp.length-1),color:c}))};

function txt(text,x,y,size,align,extra){graphic.push({type:'text',silent:true,style:Object.assign({text,x,y,font:size+'px '+FONT,fill:INK,align:align||'left',verticalAlign:'middle'},extra||{})});}

panels.forEach((p,idx)=>{
 const cfg=rowsLayout[p.r],cx=cfg.xs[p.c],cy=cfg.cy,Rh=R*N/(N-1);
 hGrid.push({left:cx-Rh,top:cy-Rh,width:2*Rh,height:2*Rh});
 hX.push({type:'category',gridIndex:idx,data:cats,show:false});
 hY.push({type:'category',gridIndex:idx,data:cats,show:false});
 const cells=[];
 p.cells.forEach((row,ri)=>{const off=(N-row.length)/2;row.forEach((v,ci)=>cells.push([ci+off,N-1-ri,v]));});
 hSeries.push({type:'heatmap',xAxisIndex:idx,yAxisIndex:idx,data:cells,silent:true,itemStyle:{borderWidth:0}});
 visualMap.push({show:false,type:'continuous',seriesIndex:idx,dimension:2,min:p.min,max:p.max,inRange:{color:colorRamp}});

 const gV=grid.length;
 grid.push({left:cx-R,top:cy-R,width:2*R,height:2*R});
 xAxis.push({type:'value',gridIndex:gV,min:-1,max:1,show:false});
 yAxis.push({type:'value',gridIndex:gV,min:-1,max:1,show:false});
 const gB=grid.length,bl=barLefts[p.r][p.c];
 grid.push({left:bl,top:cfg.barTop,width:BAR_W,height:BAR_H});
 xAxis.push({type:'category',gridIndex:gB,data:['bar'],show:false});
 yAxis.push({type:'value',gridIndex:gB,min:p.min,max:p.max,position:'right',splitLine:{show:false},axisLine:{show:false},axisTick:{show:false},
  axisLabel:{show:p.ticks.length>0,customValues:p.ticks,showMinLabel:true,showMaxLabel:true,hideOverlap:false,formatter:v=>(+v).toFixed(p.dec),margin:6,fontSize:p.labelSize||18,fontFamily:FONT,color:INK}});

 (p.cont||[]).forEach(([style,pts])=>series.push({type:'line',xAxisIndex:gV,yAxisIndex:gV,data:pts,smooth:.35,showSymbol:false,symbol:'none',silent:true,clip:false,z:2,
   lineStyle:{color:'#fff',width:1.5,type:dash[style]}}));
 if(p.pol) series.push({type:'custom',xAxisIndex:gV,yAxisIndex:gV,data:p.pol,z:2,silent:true,clip:false,
   renderItem(params,api){const c=api.coord([api.value(0),api.value(1)]),a=api.value(2)*Math.PI/180,L=5;
     return {type:'line',shape:{x1:c[0]-L*Math.cos(a),y1:c[1]+L*Math.sin(a),x2:c[0]+L*Math.cos(a),y2:c[1]-L*Math.sin(a)},style:{stroke:'#fff',lineWidth:1.4}};}});
 series.push({type:'custom',xAxisIndex:gV,yAxisIndex:gV,data:[[0,0]],z:3,silent:true,clip:false,
   renderItem(params,api){const c=api.coord([0,0]),r=api.size([1,1])[0];
     return {type:'group',children:[
      {type:'ring',shape:{cx:c[0],cy:c[1],r:r+23,r0:r},style:{fill:'#fff'}},
      {type:'circle',shape:{cx:c[0],cy:c[1],r:r},style:{fill:'none',stroke:'#231f20',lineWidth:2.6}}]};}});
 if(p.mk){
  series.push({type:'scatter',xAxisIndex:gV,yAxisIndex:gV,data:[p.mk.max],symbol:'rect',symbolSize:7,itemStyle:{color:'#000'},z:4,silent:true,clip:false});
  series.push({type:'scatter',xAxisIndex:gV,yAxisIndex:gV,data:[p.mk.min],symbol:'circle',symbolSize:7,itemStyle:{color:'#fff',borderColor:'#000',borderWidth:1},z:4,silent:true,clip:false});
 }
 const low=p.ticks.length?Math.min(...p.ticks):null;
 series.push({type:'bar',xAxisIndex:gB,yAxisIndex:gB,data:[p.max],barWidth:'100%',silent:true,z:2,
  itemStyle:{color:gradient,borderColor:'#3a1512',borderWidth:1.5},
  markLine:{silent:true,symbol:'none',label:{show:false},animation:false,
   data:p.ticks.map(v=>({yAxis:v,lineStyle:{color:'#fff',width:1.4,type:v===low?[3,2]:'solid'}}))}});
 const bc=bl+BAR_W/2+(p.c===0?-1:0);
 txt(p.max.toFixed(2),bc,cfg.barTop-14,18.5,'center');
 txt(p.min.toFixed(2),bc,cfg.barTop+BAR_H+14,18.5,'center');
});

// Headers
txt('V',238,18,20,'left',{font:'italic 20px '+FONT});txt('p',250,26,14);txt('(km s',264,18,20);txt('\u22121',313,12,14);txt(')',331,18,20);
txt('d',568,18,20);txt('V',582,18,20,'left',{font:'italic 20px '+FONT});txt('s',594,26,14);txt('(%)',608,18,20);
txt('V',851,18,20,'left',{font:'italic 20px '+FONT});txt('s1',863,26,14);txt('polarization',886,18,20.8);

// Mineral names
txt('Olivine',7,181,20);txt('Enstatite',10,340,20);txt('Diopside',17,615,20);

// Captions
function square(x,y){graphic.push({type:'rect',silent:true,shape:{x:x-3.5,y:y-3.5,width:7,height:7},style:{fill:'#111'}});}
function hollow(x,y){graphic.push({type:'circle',silent:true,shape:{cx:x,cy:y,r:3},style:{fill:'#fff',stroke:'#111',lineWidth:1}});}
const EQ='\u2009=\u2009';
const captions=[
 {y:255,mx:[191,202,359,367,523,531,715,722],vals:['9.65','7.59','16.01','0.28'],ani:'23.8%',ax:202},
 {y:496,mx:[195,202,360,367,523,530,716,723],vals:['8.81','7.68','17.59','0.50'],ani:'13.7%',ax:201},
 {y:737,mx:[195,202,364,373,530,537,723,731],vals:['9.35','7.87','26.05','1.02'],ani:'17.2%',ax:202}];
captions.forEach(c=>{
 square(c.mx[0],c.y);txt('Max. velocity'+EQ+c.vals[0],c.mx[1],c.y,16.5);
 hollow(c.mx[2],c.y);txt('Min. velocity'+EQ+c.vals[1],c.mx[3],c.y,16.5);
 square(c.mx[4],c.y);txt('Max. anisotropy'+EQ+c.vals[2],c.mx[5],c.y,16.5);
 hollow(c.mx[6],c.y);txt('Min. anisotropy'+EQ+c.vals[3],c.mx[7],c.y,16.5);
 txt('Anisotropy'+EQ+c.ani,c.ax,c.y+18,16.5);
});

// Orientation insets
[{cx:131,cy:282,lx:87.5},{cx:131,cy:714,lx:86}].forEach(o=>{
 graphic.push({type:'ellipse',silent:true,shape:{cx:o.cx,cy:o.cy,rx:44,ry:47.5},style:{fill:'none',stroke:'#231f20',lineWidth:1}});
 square(o.cx,o.cy-47.5);square(o.lx,o.cy);square(o.cx,o.cy);
 txt('[100]',o.cx,o.cy-67,18.5,'center');txt('[001]',o.cx,o.cy-19,18.5,'center');txt('[010]',78,o.cy,18.5,'right');
});

const lower=echarts.init(document.getElementById('cells'));
lower.setOption({animation:false,backgroundColor:'#fff',grid:hGrid,xAxis:hX,yAxis:hY,visualMap,series:hSeries,tooltip:{show:false}});
const chart=echarts.init(document.getElementById('c'));
chart.setOption({animation:false,backgroundColor:'transparent',grid,xAxis,yAxis,series,graphic:{elements:graphic.map(g=>Object.assign({z:20},g))},tooltip:{show:false}});
</script></body></html>
